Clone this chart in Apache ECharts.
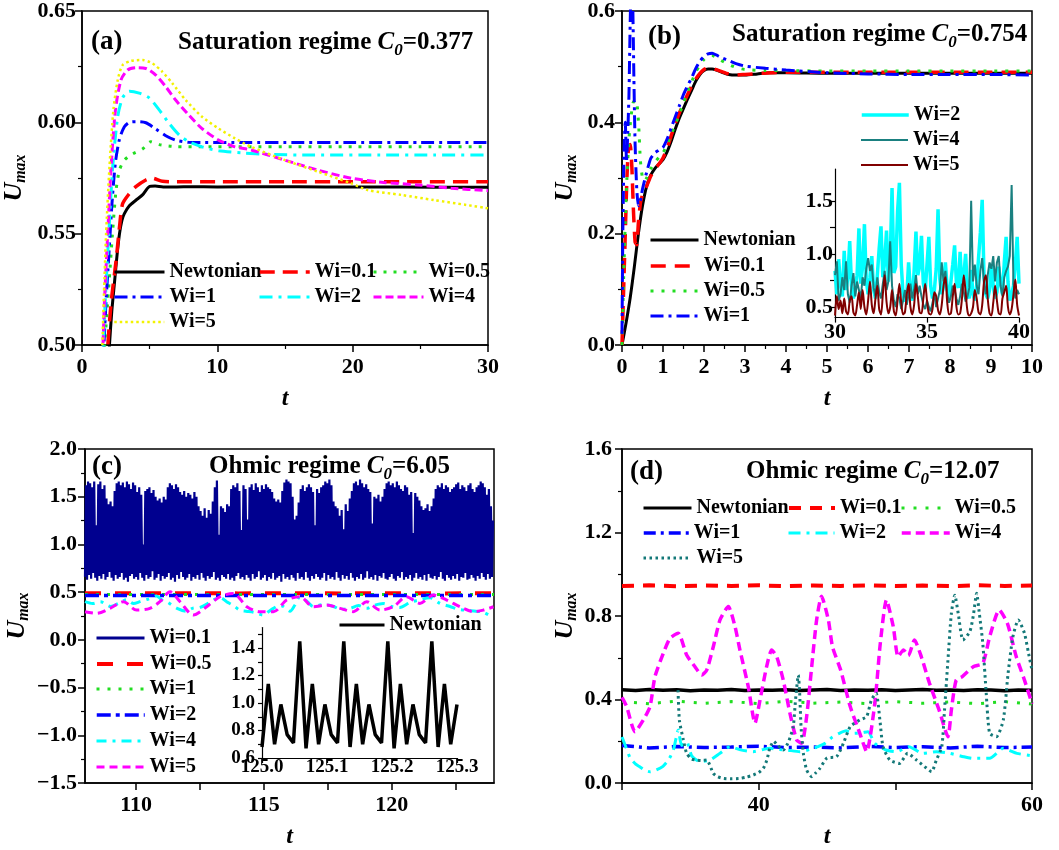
<!DOCTYPE html>
<html>
<head>
<meta charset="utf-8">
<script src="https://cdn.jsdelivr.net/npm/echarts@6/dist/echarts.min.js"></script>
<style>
  html, body { margin: 0; padding: 0; background: #fff; }
  #chart { width: 1059px; height: 850px; }
</style>
</head>
<body>
<div id="chart"></div>
<script>
// ---------- (a) Saturation regime, C0 = 0.377 : [t, Umax] ----------
const aNewtonian = [[1.95,0.49],[2.03,0.50],[2.2,0.515],[2.4,0.528],[2.6,0.541],[2.77,0.550],[2.95,0.556],[3.13,0.559],[3.5,0.5625],[3.98,0.565],[4.47,0.5674],[4.96,0.5711],[5.4,0.5714],[6,0.5710],[7,0.5710],[8,0.5711],[10,0.5710],[14,0.5711],[18,0.5710],[22,0.5710],[26,0.5709],[30,0.5708]];
const aWi01 = [[1.85,0.49],[1.91,0.50],[2.16,0.5196],[2.52,0.538],[2.77,0.553],[3.0,0.5634],[3.5,0.568],[3.98,0.5711],[4.72,0.5741],[5.2,0.5749],[5.94,0.5735],[7,0.5733],[10,0.5733],[15,0.5733],[20,0.5733],[25,0.5733],[30,0.5733]];
const aWi05 = [[1.6,0.49],[1.68,0.50],[1.9,0.5196],[2.07,0.534],[2.27,0.5516],[2.52,0.5696],[2.77,0.5786],[3.13,0.583],[3.74,0.5858],[4.47,0.588],[5.08,0.5913],[5.7,0.590],[6.92,0.5891],[9,0.5890],[12,0.5890],[16,0.5890],[20,0.5890],[25,0.5890],[30,0.5890]];
const aWi1 = [[1.55,0.49],[1.62,0.50],[1.78,0.52],[1.98,0.54],[2.22,0.564],[2.47,0.582],[2.77,0.5925],[3.13,0.598],[3.5,0.600],[3.98,0.6003],[4.72,0.5998],[5.45,0.597],[6.19,0.594],[6.92,0.592],[7.9,0.591],[8.87,0.5909],[12,0.5909],[16,0.5909],[20,0.5909],[25,0.5909],[30,0.5909]];
const aWi2 = [[1.5,0.49],[1.57,0.50],[1.74,0.5226],[1.98,0.550],[2.27,0.580],[2.64,0.6026],[3.0,0.611],[3.5,0.614],[4.23,0.6131],[4.96,0.611],[5.7,0.6056],[6.43,0.5996],[7.17,0.5944],[7.9,0.5913],[8.87,0.589],[10.1,0.5872],[11.8,0.5863],[13.8,0.5856],[17,0.5853],[22,0.5853],[26,0.5853],[30,0.5853]];
const aWi4 = [[1.48,0.49],[1.55,0.50],[1.66,0.5196],[1.9,0.55],[2.15,0.58],[2.47,0.6055],[2.88,0.619],[3.37,0.6235],[3.98,0.6245],[4.72,0.6242],[5.45,0.6212],[6.19,0.616],[6.92,0.610],[7.9,0.6032],[8.87,0.5972],[10.1,0.592],[11.3,0.589],[12.5,0.5876],[15,0.583],[17.4,0.5786],[19.9,0.5749],[22.3,0.573],[24.8,0.5719],[27.3,0.5704],[30,0.5693]];
const aWi5 = [[1.43,0.49],[1.5,0.50],[1.62,0.5226],[1.78,0.55],[2.03,0.58],[2.32,0.6055],[2.64,0.619],[3.0,0.6257],[3.62,0.6276],[4.47,0.628],[5.2,0.6265],[5.94,0.6227],[6.68,0.6175],[7.66,0.61],[8.87,0.6025],[10.1,0.5972],[11.3,0.5928],[12.5,0.589],[15,0.583],[17.4,0.5779],[19.9,0.5726],[21.1,0.5696],[23.6,0.5674],[26,0.5651],[28.4,0.5629],[30,0.5614]];

// ---------- (b) Saturation regime, C0 = 0.754 : [t, Umax] ----------
const bNewtonian = [[0,0],[0.1,0.04],[0.2,0.085],[0.3,0.14],[0.4,0.2],[0.5,0.25],[0.6,0.285],[0.7,0.305],[0.8,0.317],[0.9,0.325],[1.0,0.333],[1.1,0.347],[1.2,0.366],[1.3,0.388],[1.4,0.408],[1.5,0.425],[1.6,0.442],[1.7,0.458],[1.8,0.474],[1.9,0.486],[2.0,0.493],[2.1,0.496],[2.2,0.496],[2.3,0.494],[2.4,0.491],[2.6,0.486],[2.8,0.485],[3.0,0.485],[3.3,0.487],[3.6,0.489],[4,0.489],[5,0.488],[6,0.488],[7,0.488],[8,0.488],[9,0.488],[10,0.488]];
const bWi01 = [[0,0],[0.04,0.1],[0.08,0.2],[0.12,0.3],[0.16,0.355],[0.2,0.36],[0.24,0.32],[0.28,0.24],[0.32,0.185],[0.36,0.18],[0.4,0.22],[0.45,0.255],[0.5,0.27],[0.6,0.285],[0.7,0.303],[0.8,0.315],[0.9,0.325],[1.0,0.336],[1.1,0.353],[1.2,0.376],[1.3,0.398],[1.4,0.417],[1.5,0.434],[1.6,0.45],[1.7,0.465],[1.8,0.478],[1.9,0.488],[2.0,0.495],[2.1,0.498],[2.2,0.497],[2.4,0.492],[2.6,0.487],[2.8,0.485],[3.0,0.486],[3.4,0.488],[4,0.49],[5,0.49],[6,0.49],[7,0.49],[8,0.49],[9,0.49],[10,0.49]];
const bWi05 = [[0,0],[0.04,0.12],[0.08,0.22],[0.12,0.3],[0.17,0.37],[0.22,0.41],[0.27,0.435],[0.32,0.44],[0.37,0.43],[0.41,0.39],[0.45,0.33],[0.5,0.3],[0.55,0.295],[0.6,0.3],[0.7,0.316],[0.8,0.328],[0.9,0.337],[1.0,0.345],[1.1,0.36],[1.2,0.378],[1.3,0.396],[1.4,0.415],[1.5,0.435],[1.6,0.455],[1.7,0.473],[1.8,0.49],[1.9,0.503],[2.0,0.513],[2.1,0.519],[2.2,0.52],[2.3,0.517],[2.4,0.512],[2.6,0.504],[2.8,0.498],[3.0,0.495],[3.5,0.493],[4,0.493],[5,0.492],[6,0.492],[7,0.492],[8,0.492],[9,0.492],[10,0.492]];
const bWi1 = [[0,0.02],[0.02,0.2],[0.05,0.35],[0.08,0.4],[0.11,0.33],[0.14,0.38],[0.17,0.45],[0.2,0.58],[0.23,0.66],[0.26,0.62],[0.29,0.48],[0.32,0.36],[0.36,0.28],[0.4,0.25],[0.45,0.26],[0.5,0.28],[0.6,0.31],[0.7,0.335],[0.8,0.345],[0.9,0.35],[1.0,0.355],[1.1,0.37],[1.2,0.39],[1.3,0.41],[1.4,0.43],[1.5,0.45],[1.6,0.466],[1.7,0.48],[1.8,0.497],[1.9,0.51],[2.0,0.518],[2.1,0.523],[2.2,0.524],[2.3,0.521],[2.4,0.517],[2.6,0.511],[2.8,0.505],[3.0,0.501],[3.5,0.497],[4,0.494],[5,0.489],[6,0.487],[7,0.486],[8,0.486],[9,0.486],[10,0.485]];

// inset of (b): samples every insetBStep starting at insetBStart
const insetBStart = 30, insetBStep = 0.1;
const bInsetWi2 = [
  0.84,0.62,0.95,0.70,0.60,1.03,0.66,0.78,1.12,0.70,
  0.58,0.66,0.80,1.24,0.72,0.88,1.28,0.75,0.62,0.78,
  0.98,0.66,0.58,0.80,1.05,1.26,0.78,0.92,1.22,0.74,
  0.95,1.62,0.82,0.88,1.40,1.67,0.90,0.62,0.55,0.60,
  0.92,0.66,0.56,0.84,1.21,0.80,0.88,1.17,0.72,0.64,
  0.90,1.16,0.70,0.58,0.66,0.86,1.42,0.76,0.62,0.70,
  0.92,0.66,0.58,0.74,0.90,1.08,0.72,0.68,1.02,0.66,
  0.80,1.00,0.64,0.58,0.85,0.62,0.56,0.70,0.96,1.20,
  1.51,0.78,0.62,0.58,0.66,0.90,0.70,0.58,0.64,0.88,
  0.72,0.62,0.92,1.16,0.74,0.56,0.62,0.70,0.90,1.16,
  0.72];
const bInsetWi4 = [
  0.80,0.93,0.56,0.62,0.78,0.66,0.93,0.62,0.54,0.70,
  0.82,0.60,0.74,0.66,0.58,0.78,0.70,0.86,0.96,0.84,
  0.90,0.68,0.60,0.78,0.64,0.58,0.72,0.84,0.66,0.74,
  1.12,0.70,0.56,0.50,0.62,0.58,0.48,0.56,0.66,0.52,
  0.62,0.72,0.58,0.66,0.80,0.62,0.70,0.60,0.52,0.48,
  0.56,0.50,0.46,0.54,0.62,0.50,0.58,0.66,0.92,0.74,
  0.84,0.62,0.54,0.60,0.70,0.66,0.58,0.52,0.60,0.72,
  0.64,0.55,0.60,0.68,1.50,0.74,0.90,0.70,0.62,0.84,
  0.96,0.72,0.62,0.80,0.92,0.86,0.98,0.74,0.92,0.98,
  0.70,0.60,0.78,0.84,0.88,0.98,1.65,0.72,0.58,0.66,
  0.62];
const bInsetWi5 = [
  0.42,0.60,0.48,0.56,0.44,0.58,0.46,0.43,0.56,0.60,
  0.45,0.42,0.52,0.64,0.48,0.66,0.50,0.43,0.56,0.74,
  0.52,0.44,0.58,0.70,0.48,0.43,0.62,0.80,0.55,0.44,
  0.50,0.66,0.46,0.42,0.56,0.72,0.54,0.43,0.45,0.62,
  0.72,0.50,0.43,0.52,0.72,0.60,0.45,0.44,0.58,0.72,
  0.56,0.44,0.43,0.48,0.64,0.60,0.47,0.43,0.52,0.70,
  0.78,0.54,0.43,0.44,0.60,0.72,0.50,0.43,0.44,0.58,
  0.80,0.64,0.46,0.42,0.44,0.50,0.66,0.58,0.45,0.43,
  0.52,0.74,0.80,0.58,0.44,0.42,0.54,0.70,0.56,0.44,
  0.43,0.58,0.64,0.70,0.50,0.43,0.48,0.62,0.76,0.52,
  0.42];

// ---------- (c) Ohmic regime, C0 = 6.05 ----------
// Wi=0.1 oscillates fast: alternating troughs and peaks, one sample every cBandStep
const cBandStart = 108, cBandStep = 0.04;
const cWi01Troughs = [
  0.66,0.63,0.68,0.64,0.70,0.65,0.62,0.67,0.64,0.69,
  0.63,0.66,0.71,0.65,0.62,0.68,0.64,0.66,0.70,0.63,
  0.65,0.61,0.67,0.69,0.64,0.66,0.63,0.70,0.65,0.62,
  0.68,0.64,0.66,0.72,0.63,0.65,0.69,0.62,0.67,0.64,
  0.66,0.70,0.63,0.65,0.61,0.68,0.64,0.71,0.66,0.63,
  0.65,0.69,0.62,0.66,0.64,0.68,0.63,0.70,0.65,0.62,
  0.67,0.64,0.66,0.71,0.63,0.65,0.62,0.68,0.66,0.64,
  0.69,0.63,0.65,0.62,0.67,0.70,0.64,0.66,0.63,0.68,
  0.65,0.62,0.69,0.64,0.66,0.72,0.63,0.65,0.68,0.62,
  0.66,0.64,0.70,0.63,0.65,0.67,0.61,0.69,0.64,0.66,
  0.63,0.68,0.65,0.62,0.70,0.64,0.66,0.63,0.71,0.65,
  0.62,0.67,0.64,0.69,0.66,0.63,0.65,0.70,0.62,0.68,
  0.64,0.66,0.63,0.71,0.65,0.62,0.68,0.64,0.67,0.63,
  0.70,0.65,0.62,0.66,0.64,0.69,0.63,0.65,0.72,0.64,
  0.66,0.63,0.68,0.62,0.67,0.65,0.70,0.64,0.63,0.66,
  0.69,0.64,0.62,0.67,0.65,0.71,0.63,0.66,0.64,0.68,
  0.62,0.65,0.70,0.64,0.66,0.63,0.68,0.62,0.69,0.65,
  0.64,0.67,0.63,0.66,0.71,0.64,0.62,0.68,0.65,0.63,
  0.67,0.64,0.69,0.62,0.66,0.65,0.70,0.63,0.64,0.68,
  0.65,0.62,0.67,0.64,0.70,0.66,0.63,0.69,0.64,0.66];
const cWi01Peaks = [
  1.62,1.66,1.64,1.60,1.66,1.20,1.63,1.66,1.58,1.62,
  1.48,1.42,1.45,1.40,1.56,1.64,1.66,1.62,1.65,1.60,
  1.66,1.63,1.58,1.65,1.62,1.55,1.60,1.52,1.00,1.56,
  1.58,1.60,1.54,1.57,1.50,1.46,1.48,1.44,1.50,1.47,
  1.60,1.64,1.62,1.58,1.63,1.60,1.55,1.52,1.56,1.50,
  1.54,1.52,1.48,1.55,1.50,1.40,1.35,1.30,1.38,1.28,
  1.36,1.32,1.45,1.60,1.67,1.10,1.40,1.38,1.34,1.42,
  1.40,1.58,1.62,1.60,1.64,1.56,1.15,1.62,1.58,1.26,
  1.60,1.63,1.57,1.64,1.60,1.55,1.62,1.58,1.63,1.60,
  1.58,1.55,1.48,1.45,1.47,1.44,1.56,1.65,1.68,1.66,
  1.64,1.50,1.26,1.30,1.44,1.58,1.62,1.56,1.60,1.63,
  1.60,1.55,1.20,1.58,1.54,1.60,1.62,1.66,1.64,1.68,
  1.62,1.45,1.40,1.38,1.30,1.36,1.16,1.42,1.35,1.48,
  1.56,1.64,1.66,1.62,1.68,1.64,1.60,1.63,1.58,1.55,
  1.22,1.50,1.48,1.52,1.45,1.50,1.58,1.64,1.66,1.62,
  1.64,1.60,1.66,1.62,1.58,1.56,1.62,1.60,1.52,1.55,
  1.12,1.54,1.50,1.46,1.40,1.36,1.38,1.42,1.35,1.40,
  1.48,1.58,1.62,1.60,1.64,1.58,1.62,1.60,1.55,1.58,
  1.60,1.63,1.65,1.58,1.62,1.60,1.56,1.62,1.64,1.58,
  1.55,1.60,1.62,1.66,1.64,1.60,1.52,1.58,1.40,1.25];
const cWi05 = [[108,0.488],[110,0.487],[112,0.489],[114,0.487],[116,0.488],[118,0.487],[120,0.489],[122,0.487],[124,0.488]];
const cWi1 = [[108,0.475],[110,0.474],[112,0.475],[114,0.476],[116,0.475],[118,0.474],[120,0.475],[122,0.474],[124,0.475]];
const cWi2 = [[108,0.466],[110,0.465],[112,0.466],[114,0.465],[116,0.466],[118,0.465],[120,0.466],[122,0.465],[124,0.466]];
const cWi4 = [[108.0,0.40],[108.3,0.38],[108.6,0.40],[109.0,0.35],[109.3,0.38],[109.63,0.42],[109.9,0.38],[110.15,0.40],[110.5,0.43],[110.8,0.46],[111.0,0.42],[111.2,0.40],[111.6,0.33],[111.97,0.30],[112.2,0.33],[112.5,0.34],[112.8,0.38],[113.02,0.42],[113.3,0.44],[113.54,0.40],[113.8,0.36],[114.06,0.31],[114.3,0.30],[114.59,0.29],[114.98,0.26],[115.2,0.30],[115.37,0.33],[115.6,0.36],[115.76,0.35],[116.02,0.30],[116.2,0.36],[116.41,0.45],[116.7,0.40],[116.93,0.35],[117.3,0.37],[117.72,0.35],[118.0,0.32],[118.37,0.33],[118.7,0.36],[119.02,0.33],[119.3,0.36],[119.67,0.38],[120.0,0.35],[120.32,0.34],[120.7,0.39],[121.1,0.42],[121.5,0.44],[121.9,0.38],[122.28,0.35],[122.6,0.32],[122.93,0.31],[123.3,0.30],[123.58,0.29],[123.98,0.23]];
const cWi5 = [[108.0,0.295],[108.46,0.277],[108.98,0.33],[109.5,0.40],[110.02,0.312],[110.54,0.33],[110.93,0.40],[111.33,0.504],[111.72,0.40],[112.24,0.26],[112.76,0.347],[113.28,0.452],[113.8,0.487],[114.33,0.347],[114.85,0.295],[115.37,0.295],[115.89,0.417],[116.41,0.452],[116.93,0.347],[117.46,0.365],[117.98,0.33],[118.5,0.295],[119.02,0.40],[119.54,0.312],[120.06,0.347],[120.58,0.452],[121.1,0.382],[121.63,0.469],[122.15,0.417],[122.67,0.347],[123.19,0.295],[123.58,0.312],[123.98,0.347]];

// inset of (c): Newtonian samples every insetCStep starting at insetCStart
const insetCStart = 125.0, insetCStep = 0.3 / 31;
const cInsetNewtonian = [0.68,1.14,0.70,0.99,0.77,0.71,1.45, 0.67,1.14,0.70,0.99,0.77,0.71,1.45, 0.68,1.14,0.70,0.99,0.77,0.71,1.45, 0.67,1.14,0.70,0.99,0.77,0.71,1.45, 0.68,1.14,0.70,0.99];

// ---------- (d) Ohmic regime, C0 = 12.07 : [t, Umax] ----------
const dNewtonian = [[30,0.447],[31,0.443],[32,0.448],[33,0.444],[34,0.447],[35,0.442],[36,0.446],[37,0.444],[38,0.448],[39,0.443],[40,0.446],[41,0.444],[42,0.447],[43,0.443],[44,0.446],[45,0.448],[46,0.443],[47,0.446],[48,0.444],[49,0.447],[50,0.443],[51,0.446],[52,0.448],[53,0.444],[54,0.446],[55,0.443],[56,0.447],[57,0.445],[58,0.442],[59,0.446],[60,0.444]];
const dWi01 = [[30,0.944],[32,0.947],[34,0.943],[36,0.946],[38,0.944],[40,0.947],[42,0.943],[44,0.946],[46,0.944],[48,0.947],[50,0.944],[52,0.946],[54,0.943],[56,0.947],[58,0.944],[60,0.946]];
const dWi05 = [[30,0.39],[32,0.38],[34,0.392],[36,0.382],[38,0.39],[40,0.38],[42,0.392],[44,0.382],[46,0.388],[48,0.38],[50,0.39],[52,0.382],[54,0.388],[56,0.38],[58,0.39],[60,0.378]];
const dWi1 = [[30,0.18],[32,0.168],[34,0.175],[36,0.17],[38,0.172],[40,0.176],[42,0.17],[44,0.172],[46,0.168],[48,0.175],[50,0.17],[52,0.174],[54,0.168],[56,0.176],[58,0.17],[60,0.172]];
const dWi2 = [[30.0,0.22],[30.3,0.17],[30.6,0.12],[31.0,0.09],[31.3,0.078],[31.7,0.06],[32.05,0.054],[32.5,0.062],[33.0,0.08],[33.4,0.11],[33.76,0.158],[34.12,0.254],[34.36,0.18],[34.73,0.198],[35.1,0.13],[35.7,0.102],[36.44,0.11],[37.17,0.142],[37.9,0.174],[38.6,0.16],[39.6,0.15],[40.3,0.16],[40.83,0.166],[41.5,0.16],[42.05,0.158],[43.0,0.15],[44.0,0.166],[44.85,0.19],[45.4,0.22],[45.9,0.238],[46.4,0.25],[46.9,0.238],[47.5,0.24],[48.0,0.246],[48.5,0.19],[49.3,0.158],[50.1,0.15],[51.0,0.174],[52.0,0.142],[53.0,0.15],[54.0,0.142],[55.0,0.126],[55.7,0.118],[56.9,0.118],[57.9,0.166],[58.9,0.142],[60,0.13]];
const dWi4 = [[30.0,0.41],[30.34,0.366],[30.95,0.246],[31.56,0.302],[32.05,0.366],[32.41,0.509],[33.02,0.621],[33.51,0.693],[34.12,0.717],[34.73,0.613],[35.34,0.557],[35.83,0.517],[36.2,0.541],[36.68,0.653],[37.17,0.781],[37.78,0.845],[38.27,0.749],[38.63,0.637],[39.24,0.461],[39.73,0.286],[40.1,0.398],[40.58,0.557],[40.95,0.637],[41.32,0.605],[41.8,0.493],[42.29,0.334],[42.78,0.206],[43.15,0.19],[43.51,0.318],[43.88,0.557],[44.24,0.781],[44.6,0.895],[45.1,0.781],[45.4,0.653],[46.0,0.541],[46.7,0.366],[47.4,0.238],[47.9,0.15],[48.5,0.382],[48.9,0.669],[49.35,0.877],[49.85,0.749],[50.2,0.605],[50.6,0.637],[50.95,0.61],[51.4,0.685],[51.9,0.605],[52.5,0.478],[53.2,0.35],[53.85,0.222],[54.1,0.35],[54.45,0.493],[54.9,0.51],[55.7,0.557],[56.4,0.573],[56.9,0.70],[57.6,0.829],[58.2,0.765],[58.85,0.605],[59.45,0.493],[60.0,0.38]];
const dWi5 = [[34.1,0.445],[34.2,0.3],[34.49,0.206],[34.73,0.142],[35.1,0.115],[35.46,0.11],[35.8,0.108],[36.2,0.11],[36.68,0.046],[37.0,0.03],[37.41,0.022],[38.0,0.02],[38.63,0.022],[39.1,0.028],[39.6,0.038],[40.0,0.05],[40.34,0.07],[40.6,0.11],[40.83,0.17],[41.1,0.2],[41.4,0.18],[41.8,0.158],[42.2,0.2],[42.53,0.27],[42.7,0.4],[42.9,0.517],[43.0,0.43],[43.1,0.27],[43.27,0.142],[43.51,0.062],[43.88,0.03],[44.2,0.05],[44.48,0.07],[45.0,0.12],[45.7,0.126],[46.2,0.19],[46.7,0.27],[47.4,0.302],[47.9,0.318],[48.25,0.398],[48.6,0.43],[48.87,0.302],[49.1,0.174],[49.6,0.11],[50.3,0.094],[50.9,0.142],[51.55,0.11],[52.15,0.078],[52.65,0.054],[53.0,0.11],[53.4,0.174],[53.6,0.35],[53.85,0.589],[54.1,0.813],[54.35,0.90],[54.6,0.813],[54.95,0.685],[55.45,0.725],[55.7,0.80],[55.95,0.909],[56.15,0.81],[56.4,0.669],[56.65,0.43],[56.9,0.238],[57.4,0.222],[57.9,0.302],[58.25,0.525],[58.6,0.70],[59.0,0.781],[59.45,0.717],[59.75,0.62],[60,0.54]];

// ---------- build helpers ----------
const FONT = '"Liberation Serif","Times New Roman",Times,serif';

function sampled(start, step, values) {
  return values.map((v, i) => [start + i * step, v]);
}
function interleave(start, step, lows, highs) {
  const out = [];
  for (let i = 0; i < lows.length; i++) {
    out.push([start + 2 * i * step, lows[i]]);
    out.push([start + (2 * i + 1) * step, highs[i]]);
  }
  return out;
}

// line styles: [color, width, dash]
const ST = {
  'a:Newtonian': ['#000000', 3, 'solid'],
  'a:Wi=0.1': ['#FF0000', 3.5, [15, 8]],
  'a:Wi=0.5': ['#22DD22', 3, [3, 7]],
  'a:Wi=1': ['#0000FF', 3, [13, 5, 3, 5]],
  'a:Wi=2': ['#00FFFF', 3, [13, 6, 3, 6]],
  'a:Wi=4': ['#FF00FF', 3, [8, 4]],
  'a:Wi=5': ['#F2F200', 2.5, [2.5, 3]],
  'b:Newtonian': ['#000000', 3, 'solid'],
  'b:Wi=0.1': ['#FF0000', 3.5, [15, 9]],
  'b:Wi=0.5': ['#22DD22', 3, [3, 8]],
  'b:Wi=1': ['#0000FF', 3, [13, 5, 3, 5]],
  'b:Wi=2': ['#00FFFF', 3.5, 'solid'],
  'b:Wi=4': ['#1A8080', 2, 'solid'],
  'b:Wi=5': ['#800000', 2, 'solid'],
  'c:Wi=0.1': ['#00008F', 2.2, 'solid'],
  'c:Wi=0.5': ['#FF0000', 4, [16, 14]],
  'c:Wi=1': ['#22DD22', 3, [3, 8]],
  'c:Wi=2': ['#0000FF', 3.5, [14, 5, 4, 5]],
  'c:Wi=4': ['#00FFFF', 3, [10, 6, 3, 6]],
  'c:Wi=5': ['#FF00FF', 3, [8, 5]],
  'c:Newtonian': ['#000000', 3.5, 'solid'],
  'd:Newtonian': ['#000000', 3.5, 'solid'],
  'd:Wi=0.1': ['#FF0000', 4, [12, 9]],
  'd:Wi=0.5': ['#22DD22', 3, [3, 9]],
  'd:Wi=1': ['#0000FF', 3.5, [12, 5, 3, 5]],
  'd:Wi=2': ['#00FFFF', 3, [12, 6, 3, 6]],
  'd:Wi=4': ['#FF00FF', 3.5, [9, 5]],
  'd:Wi=5': ['#137878', 3, [2.5, 3.5]]
};

function line(name, gi, data, extra) {
  const s = ST[name];
  return Object.assign({
    type: 'line', name, xAxisIndex: gi, yAxisIndex: gi, data,
    symbol: 'none', showSymbol: false, animation: false, silent: true,
    lineStyle: { color: s[0], width: s[1], type: s[2] },
    itemStyle: { color: s[0] },
    emphasis: { disabled: true }
  }, extra || {});
}

function key(name, x, yc, w, lw) {
  const s = ST[name];
  return {
    data: [name], left: x, top: yc - 10, itemWidth: w, itemHeight: 20,
    padding: 0, itemGap: 0, selectedMode: false,
    formatter: n => n.slice(2),
    textStyle: { fontFamily: FONT, fontSize: 20, fontWeight: 'bold', color: '#000' },
    itemStyle: { opacity: 0 },
    lineStyle: { width: lw || s[1], type: s[2], color: s[0], opacity: 1 }
  };
}

function axis(o) {
  const lw = o.lw || 1.5;
  const ax = {
    type: 'value', gridIndex: o.grid, min: o.min, max: o.max,
    axisLine: { show: true, onZero: false, lineStyle: { color: '#000', width: lw } },
    axisTick: { show: true, inside: false, length: o.tick || 7, lineStyle: { color: '#000', width: lw } },
    splitLine: { show: false },
    axisLabel: {
      color: '#000', fontFamily: FONT, fontSize: o.fs || 22, fontWeight: 'bold',
      margin: o.margin, formatter: o.fmt, hideOverlap: false
    }
  };
  if (o.interval != null) ax.interval = o.interval;
  if (o.minor) ax.minorTick = { show: true, splitNumber: o.minor, length: 4, lineStyle: { color: '#000', width: 1.2 } };
  if (o.ticks) ax.axisTick.customValues = o.ticks;
  if (o.labels) ax.axisLabel.customValues = o.labels;
  if (o.xname) {
    ax.name = 't';
    ax.nameLocation = 'middle';
    ax.nameGap = 42;
    ax.nameTextStyle = { fontFamily: FONT, fontSize: 24, fontStyle: 'italic', fontWeight: 'bold', color: '#000' };
  }
  if (o.yname) {
    ax.name = '{u|U}{s|max}';
    ax.nameLocation = 'middle';
    ax.nameRotate = 90;
    ax.nameGap = o.yname;
    ax.nameTextStyle = {
      rich: {
        u: { fontFamily: FONT, fontSize: 26, fontStyle: 'italic', fontWeight: 'bold', color: '#000' },
        s: { fontFamily: FONT, fontSize: 16, fontStyle: 'italic', fontWeight: 'bold', color: '#000', padding: [14, 0, 0, 0] }
      }
    };
  }
  return ax;
}

const f1 = v => v.toFixed(1);
const f2 = v => v.toFixed(2);
const fSigned = v => (v < 0 ? '\u2212' + (-v).toFixed(1) : v.toFixed(1));

const RICH = {
  n: { fontFamily: FONT, fontSize: 25, fontWeight: 'bold', color: '#000' },
  i: { fontFamily: FONT, fontSize: 25, fontWeight: 'bold', fontStyle: 'italic', color: '#000' },
  s: { fontFamily: FONT, fontSize: 17, fontWeight: 'bold', fontStyle: 'italic', color: '#000', padding: [16, 0, 0, 0] }
};
function heading(text, x, y) {
  return { text, left: x, top: y, padding: 0, textStyle: { rich: RICH, fontFamily: FONT, fontSize: 25, fontWeight: 'bold', color: '#000' } };
}
function tag(text, x, y) {
  return { text, left: x, top: y, padding: 0, textStyle: { fontFamily: FONT, fontSize: 27, fontWeight: 'bold', color: '#000' } };
}

const boxed = { show: true, borderColor: '#000', borderWidth: 1.5, backgroundColor: 'transparent' };

const option = {
  backgroundColor: '#fff',
  animation: false,
  grid: [
    Object.assign({ left: 79, top: 11, width: 409, height: 334 }, boxed),
    Object.assign({ left: 622, top: 11, width: 410, height: 334 }, boxed),
    Object.assign({ left: 85, top: 449, width: 409, height: 334 }, boxed),
    Object.assign({ left: 622, top: 449, width: 410, height: 334 }, boxed),
    { left: 835, top: 169, width: 184, height: 148.6, show: false },
    { left: 262, top: 627.5, width: 195, height: 130.5, show: false }
  ],
  xAxis: [
    axis({ grid: 0, min: 0, max: 30, interval: 10, minor: 2, margin: 11, xname: true }),
    axis({ grid: 1, min: 0, max: 10, interval: 1, minor: 2, margin: 11, xname: true }),
    axis({ grid: 2, min: 108, max: 124, ticks: [110, 112.5, 115, 117.5, 120, 122.5], labels: [110, 115, 120], margin: 11, xname: true }),
    axis({ grid: 3, min: 30, max: 60, interval: 10, margin: 11, xname: true, fmt: v => (v === 40 || v === 60 ? String(v) : '') }),
    axis({ grid: 4, min: 30, max: 40, interval: 5, margin: 4, lw: 1.2, tick: 5 }),
    axis({ grid: 5, min: 125.0, max: 125.3, interval: 0.1, margin: 0, fs: 19, lw: 1.2, tick: 5, fmt: f1 })
  ],
  yAxis: [
    axis({ grid: 0, min: 0.5, max: 0.65, interval: 0.05, minor: 2, margin: 6, fmt: f2, yname: 53 }),
    axis({ grid: 1, min: 0, max: 0.6, interval: 0.2, minor: 2, margin: 7, fmt: f1, yname: 42 }),
    axis({ grid: 2, min: -1.5, max: 2.0, interval: 0.5, minor: 2, margin: 8, fmt: fSigned, yname: 53 }),
    axis({ grid: 3, min: 0, max: 1.6, interval: 0.4, minor: 2, margin: 10, fmt: f1, yname: 42 }),
    axis({ grid: 4, min: 0.4, max: 1.8, ticks: [0.5, 0.75, 1.0, 1.25, 1.5], labels: [0.5, 1.0, 1.5], margin: 2, lw: 1.2, tick: 5, fmt: f1 }),
    axis({ grid: 5, min: 0.6, max: 1.55, ticks: [0.6, 0.7, 0.8, 0.9, 1.0, 1.1, 1.2, 1.3, 1.4, 1.5], labels: [0.6, 0.8, 1.0, 1.2, 1.4], margin: 7, fs: 19, lw: 1.2, tick: 4, fmt: f1 })
  ],
  title: [
    tag('(a)', 91, 29),
    heading('{n|Saturation regime }{i|C}{s|0}{n|=0.377}', 178, 26),
    tag('(b)', 648, 24),
    heading('{n|Saturation regime }{i|C}{s|0}{n|=0.754}', 732, 18),
    tag('(c)', 92, 454),
    heading('{n|Ohmic regime }{i|C}{s|0}{n|=6.05}', 209, 450),
    tag('(d)', 630, 459),
    heading('{n|Ohmic regime }{i|C}{s|0}{n|=12.07}', 746, 455)
  ],
  legend: [
    key('a:Newtonian', 113, 272, 50), key('a:Wi=0.1', 258, 272, 50), key('a:Wi=0.5', 372, 272, 50),
    key('a:Wi=1', 113, 297, 50), key('a:Wi=2', 258, 297, 50), key('a:Wi=4', 372, 297, 50),
    key('a:Wi=5', 113, 322, 50),
    key('b:Newtonian', 649, 240, 48), key('b:Wi=0.1', 649, 266, 48),
    key('b:Wi=0.5', 649, 291, 48), key('b:Wi=1', 649, 316, 48),
    key('b:Wi=2', 860, 115, 47), key('b:Wi=4', 860, 140, 47), key('b:Wi=5', 860, 165, 47),
    key('c:Wi=0.1', 95, 638, 48, 3), key('c:Wi=0.5', 95, 664, 48), key('c:Wi=1', 95, 689, 48),
    key('c:Wi=2', 95, 715, 48), key('c:Wi=4', 95, 741, 48), key('c:Wi=5', 95, 767, 48),
    key('c:Newtonian', 338, 625, 45, 3),
    key('d:Newtonian', 642, 508, 48, 3), key('d:Wi=0.1', 787, 508, 46), key('d:Wi=0.5', 900, 508, 48),
    key('d:Wi=1', 642, 533, 45), key('d:Wi=2', 787, 533, 46), key('d:Wi=4', 900, 533, 48),
    key('d:Wi=5', 642, 558, 48)
  ],
  series: [
    line('a:Newtonian', 0, aNewtonian, { smooth: 0.25 }),
    line('a:Wi=0.1', 0, aWi01, { smooth: 0.25 }),
    line('a:Wi=0.5', 0, aWi05, { smooth: 0.25 }),
    line('a:Wi=1', 0, aWi1, { smooth: 0.25 }),
    line('a:Wi=2', 0, aWi2, { smooth: 0.25 }),
    line('a:Wi=4', 0, aWi4, { smooth: 0.25 }),
    line('a:Wi=5', 0, aWi5, { smooth: 0.25 }),

    line('b:Newtonian', 1, bNewtonian, { smooth: 0.25 }),
    line('b:Wi=0.1', 1, bWi01, { smooth: 0.2 }),
    line('b:Wi=0.5', 1, bWi05, { smooth: 0.2 }),
    line('b:Wi=1', 1, bWi1, { smooth: 0.2 }),
    line('b:Wi=2', 4, sampled(insetBStart, insetBStep, bInsetWi2)),
    line('b:Wi=4', 4, sampled(insetBStart, insetBStep, bInsetWi4)),
    line('b:Wi=5', 4, sampled(insetBStart, insetBStep, bInsetWi5), { smooth: 0.3 }),

    line('c:Wi=0.1', 2, interleave(cBandStart, cBandStep, cWi01Troughs, cWi01Peaks)),
    line('c:Wi=0.5', 2, cWi05),
    line('c:Wi=1', 2, cWi1),
    line('c:Wi=2', 2, cWi2),
    line('c:Wi=4', 2, cWi4, { smooth: 0.3 }),
    line('c:Wi=5', 2, cWi5, { smooth: 0.3 }),
    line('c:Newtonian', 5, sampled(insetCStart, insetCStep, cInsetNewtonian)),

    line('d:Newtonian', 3, dNewtonian),
    line('d:Wi=0.1', 3, dWi01),
    line('d:Wi=0.5', 3, dWi05),
    line('d:Wi=1', 3, dWi1),
    line('d:Wi=2', 3, dWi2, { smooth: 0.2 }),
    line('d:Wi=4', 3, dWi4, { smooth: 0.2 }),
    line('d:Wi=5', 3, dWi5, { smooth: 0.2 })
  ]
};

const chart = echarts.init(document.getElementById('chart'), null, { renderer: 'canvas', width: 1059, height: 850 });
chart.setOption(option);
</script>
</body>
</html>
